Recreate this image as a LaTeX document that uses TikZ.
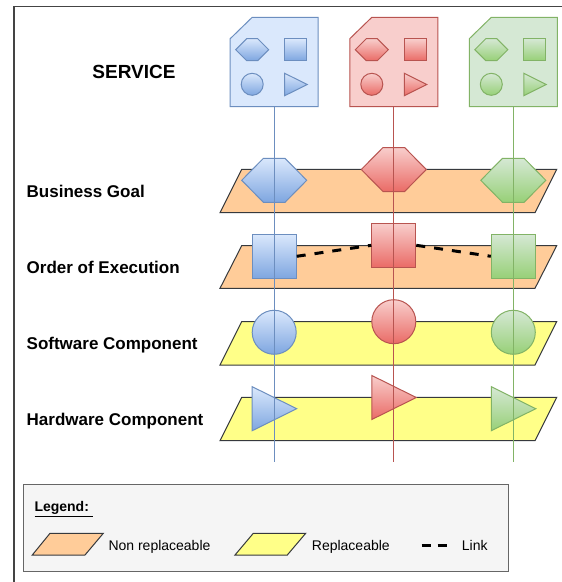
\documentclass[tikz,border=0pt]{standalone}
\usepackage{fontspec}
\setmainfont{Liberation Sans}
\begin{document}
\begin{tikzpicture}[x=1pt,y=-1pt,
  every node/.style={inner sep=0pt, text=black},
  plane/.style={draw=pstroke, line width=1pt},
  bluesh/.style={draw=bluestroke, top color=bluefill, bottom color=bluedark, line width=1pt},
  redsh/.style={draw=redstroke, top color=redfill, bottom color=reddark, line width=1pt},
  greensh/.style={draw=greenstroke, top color=greenfill, bottom color=greendark, line width=1pt},
  bluecard/.style={draw=bluestroke, fill=bluefill, line width=1pt},
  redcard/.style={draw=redstroke, fill=redfill, line width=1pt},
  greencard/.style={draw=greenstroke, fill=greenfill, line width=1pt},
  lanelabel/.style={anchor=base west, font=\bfseries\fontsize{17}{20}\selectfont},
  legtext/.style={anchor=base west, font=\fontsize{14}{17}\selectfont},
  linkline/.style={line width=3pt, dash pattern=on 9pt off 9pt},
]
\definecolor{bluefill}{HTML}{DAE8FC}
\definecolor{bluedark}{HTML}{7EA6E0}
\definecolor{bluestroke}{HTML}{6C8EBF}
\definecolor{redfill}{HTML}{F8CECC}
\definecolor{reddark}{HTML}{EA6B66}
\definecolor{redstroke}{HTML}{B85450}
\definecolor{greenfill}{HTML}{D5E8D4}
\definecolor{greendark}{HTML}{97D077}
\definecolor{greenstroke}{HTML}{82B366}
\definecolor{orangefill}{HTML}{FFCC99}
\definecolor{yellowfill}{HTML}{FFFF88}
\definecolor{pstroke}{HTML}{36393D}
\definecolor{legfill}{HTML}{F5F5F5}
\definecolor{legstroke}{HTML}{666666}
\definecolor{framecol}{HTML}{444444}

\clip (0,0) rectangle (562,582);
\fill[white] (0,0) rectangle (562,582);

% outer frame (cut by the page)
\draw[framecol, line width=1.2pt] (14,6.7) rectangle (620,640);

% title and lane labels
\node[anchor=base, font=\bfseries\fontsize{19}{22}\selectfont] (title) at (134,78.3) {SERVICE};
\node[lanelabel] (lbg) at (26.5,197.8) {Business Goal};
\node[lanelabel] (loe) at (26.5,273.4) {Order of Execution};
\node[lanelabel] (lsc) at (26.5,349.4) {Software Component};
\node[lanelabel] (lhc) at (26.5,425.4) {Hardware Component};

% planes
\path[plane, fill=orangefill] (241.7,169.3) -- (556.7,169.3) -- (535,212.7) -- (220,212.7) -- cycle;
\path[plane, fill=orangefill] (241.7,245.7) -- (556.7,245.7) -- (535,288.3) -- (220,288.3) -- cycle;
\path[plane, fill=yellowfill] (241.7,321.7) -- (556.7,321.7) -- (535,365) -- (220,365) -- cycle;
\path[plane, fill=yellowfill] (241.7,397.3) -- (556.7,397.3) -- (535,440.7) -- (220,440.7) -- cycle;

% service cards with their four small shapes
\foreach \cx/\sh/\cd/\nm in {274.2/bluesh/bluecard/b, 393.8/redsh/redcard/r, 513.3/greensh/greencard/g}{
  \path[\cd] ({\cx-44},38.7) -- ({\cx-22},17.3) -- ({\cx+44},17.3) -- ({\cx+44},106.7) -- ({\cx-44},106.7) -- cycle;
  \coordinate (card\nm) at (\cx,106.7);
  \coordinate (end\nm) at (\cx,462);
  % small hexagon
  \path[\sh] ({\cx-38.5},49.7) -- ({\cx-27.5},38.7) -- ({\cx-16.5},38.7) -- ({\cx-5.5},49.7) -- ({\cx-16.5},60.7) -- ({\cx-27.5},60.7) -- cycle;
  % small square
  \path[\sh] ({\cx+10.5},38.7) rectangle ({\cx+32.5},60.7);
  % small circle
  \path[\sh] ({\cx-22},84.3) circle[radius=11];
  % small triangle
  \path[\sh] ({\cx+10.5},73.3) -- ({\cx+33},84.5) -- ({\cx+10.5},95.7) -- cycle;
}

% Business goal hexagons
\foreach \cx/\cy/\sh in {274.2/180.3/bluesh, 393.8/169.5/redsh, 513.3/180.3/greensh}{
  \path[\sh] ({\cx-32.5},\cy) -- ({\cx-10.8},{\cy-22}) -- ({\cx+10.8},{\cy-22}) -- ({\cx+32.5},\cy) -- ({\cx+10.8},{\cy+22}) -- ({\cx-10.8},{\cy+22}) -- cycle;
}

% Order of execution squares
\node[bluesh, minimum width=44pt, minimum height=44pt] (sqb) at (274.2,256.3) {};
\node[redsh, minimum width=44pt, minimum height=44pt] (sqr) at (393.8,245.3) {};
\node[greensh, minimum width=44pt, minimum height=44pt] (sqg) at (513.3,256.3) {};
\draw[linkline] (sqb.east) -- (sqr.west);
\draw[linkline] (sqr.east) -- (sqg.west);

% Software component circles
\node[bluesh, circle, minimum size=44pt] (cib) at (274.2,332.3) {};
\node[redsh, circle, minimum size=44pt] (cir) at (393.8,321.7) {};
\node[greensh, circle, minimum size=44pt] (cig) at (513.3,332.3) {};

% Hardware component triangles
\foreach \cx/\cy/\sh in {274.2/408.7/bluesh, 393.8/397.5/redsh, 513.3/408.7/greensh}{
  \path[\sh] ({\cx-22},{\cy-22}) -- ({\cx+22.5},\cy) -- ({\cx-22},{\cy+22}) -- cycle;
}

% vertical service lines
\draw[bluestroke, line width=1pt] (cardb) -- (endb);
\draw[redstroke, line width=1pt] (cardr) -- (endr);
\draw[greenstroke, line width=1pt] (cardg) -- (endg);

% legend
\node[draw=legstroke, fill=legfill, line width=1pt, minimum width=485.6pt, minimum height=87.3pt, anchor=north west] (legend) at (22.7,484) {};
\node[anchor=base west, font=\bfseries\fontsize{14}{17}\selectfont] (legtitle) at (34.3,511.7) {\underline{Legend:\ }};
\path[plane, fill=orangefill] (50,533.3) -- (103.3,533.3) -- (85,555) -- (32.3,555) -- cycle;
\node[legtext] (lnr) at (108.3,550) {Non replaceable};
\path[plane, fill=yellowfill] (253.3,533.3) -- (305.7,533.3) -- (287.3,555) -- (235,555) -- cycle;
\node[legtext] (lr) at (311.7,550) {Replaceable};
\coordinate (lka) at (421.7,545);
\coordinate (lkb) at (446.7,545);
\draw[line width=3pt, dash pattern=on 9pt off 7pt] (lka) -- (lkb);
\node[legtext] (llink) at (461.7,550) {Link};
\end{tikzpicture}
\end{document}
